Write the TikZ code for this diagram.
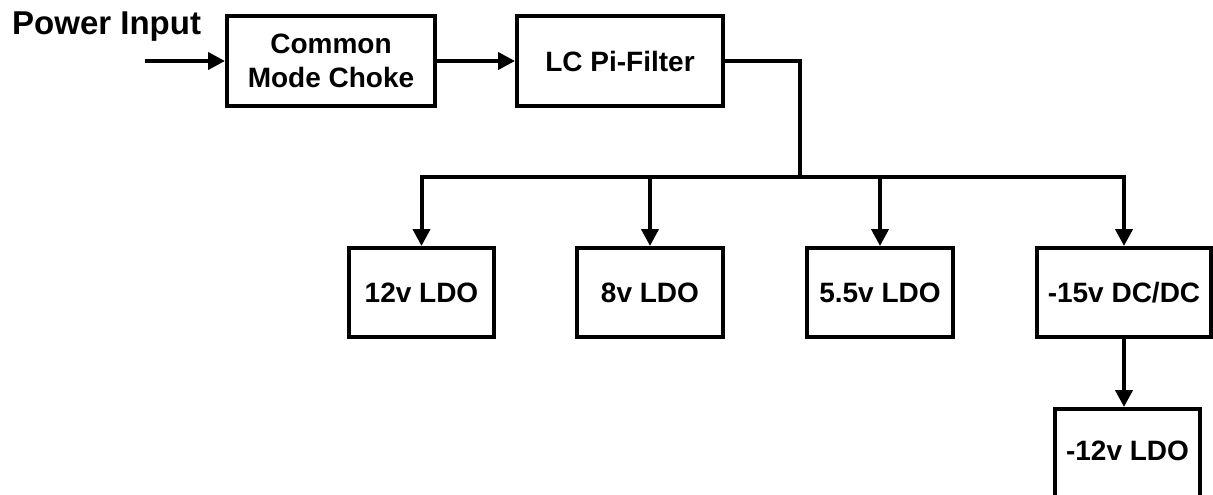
\documentclass[tikz,border=0pt]{standalone}
\usepackage{fontspec}
\setmainfont{Liberation Sans}
\usetikzlibrary{arrows.meta}
\begin{document}
\begin{tikzpicture}[x=1pt,y=-1pt,
  box/.style={draw=black, line width=4pt, rectangle, inner sep=0pt, align=center,
    font=\bfseries\fontsize{28}{34}\selectfont},
  lbl/.style={inner sep=0pt, font=\bfseries\fontsize{28}{34}\selectfont},
  wire/.style={line width=4pt},
  arr/.style={line width=4pt, -{Triangle[length=17pt,width=17pt]}}]
\useasboundingbox (0,0) rectangle (1213,495);
\node[anchor=base west, inner sep=0pt, font=\bfseries\fontsize{33}{38}\selectfont] (pin) at (12,35) {Power Input};
\node[box, minimum width=208pt, minimum height=90pt] (cmc) at (331,61) {Common\\Mode Choke};
\node[box, minimum width=206pt, minimum height=90pt] (lc) at (620,61) {LC Pi-Filter};
\node[box, minimum width=145pt, minimum height=89pt] (l12) at (421.5,292.5) {12v LDO};
\node[box, minimum width=146pt, minimum height=89pt] (l8) at (650,292.5) {8v LDO};
\node[box, minimum width=146pt, minimum height=89pt] (l55) at (880,292.5) {5.5v LDO};
\node[box, minimum width=174pt, minimum height=89pt] (m15) at (1124,292.5) {-15v DC/DC};
\node[box, minimum width=145pt, minimum height=100pt, anchor=north] (m12) at (1127.5,407) {};
\node[lbl] (m12t) at (1127.5,451) {-12v LDO};
\coordinate (src) at (145,61);
\coordinate (bus) at (800,177);
\draw[arr] (src) -- (cmc.west);
\draw[arr] (cmc.east) -- (lc.west);
\draw[wire] (lc.east) -| (bus);
\draw[arr] (bus) -| (l12.north);
\draw[arr] (bus) -| (m15.north);
\draw[arr] (l8.north |- bus) -- (l8.north);
\draw[arr] (l55.north |- bus) -- (l55.north);
\draw[arr] (m15.south) -- (m15.south |- m12.north);
\end{tikzpicture}
\end{document}
